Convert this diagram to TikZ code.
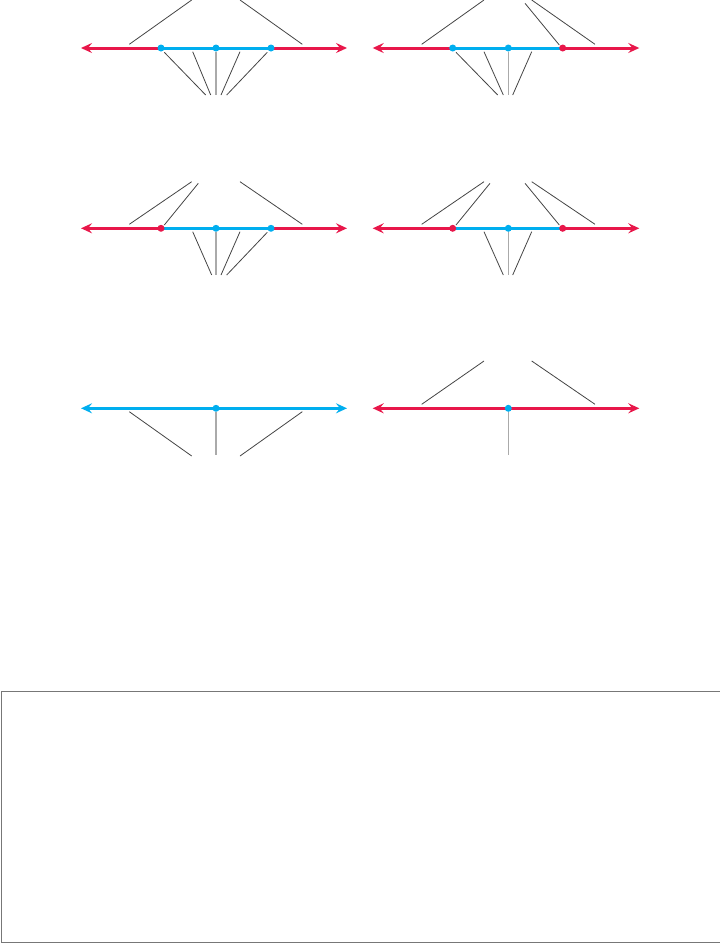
\documentclass[tikz,border=0pt]{standalone}
\usetikzlibrary{arrows.meta}
\definecolor{rd}{HTML}{E8174A}
\definecolor{bl}{HTML}{00AEEF}
\definecolor{ln}{HTML}{444444}
\definecolor{gv}{HTML}{AAAAAA}
\definecolor{bx}{HTML}{777777}
\tikzset{
  axisline/.style={line width=3pt,{Stealth[length=11pt,width=10pt,inset=4pt]}-{Stealth[length=11pt,width=10pt,inset=4pt]}},
  seg/.style={line width=3pt,bl},
  bdot/.style={circle,fill=bl,inner sep=0pt,minimum size=7pt},
  rdot/.style={circle,fill=rd,inner sep=0pt,minimum size=7pt},
  thin line/.style={ln,line width=0.8pt},
  vline/.style={gv,line width=1.6pt},
  framebox/.style={bx,line width=1pt}
}
\begin{document}
\begin{tikzpicture}[x=1pt,y=-1pt]
\useasboundingbox (0,0) rectangle (720,943);
% ---------- Panel 1 ----------
\draw[axisline,rd] (81,48) -- (347,48);
\draw[seg] (161,48) -- (271,48);
\node[bdot] (a1) at (161,48) {};
\node[bdot] (a2) at (216,48) {};
\node[bdot] (a3) at (271,48) {};
\draw[thin line] (129.3,44.3) -- (191.7,0);
\draw[thin line] (240,0) -- (302.3,44.3);
\draw[thin line] (164.3,52.3) -- (205.7,95);
\draw[thin line] (192.7,51.7) -- (210.7,95);
\draw[vline] (a2.south) -- (216,95);
\draw[thin line] (240,51.7) -- (221,95);
\draw[thin line] (267.3,52.3) -- (226.7,95);
% ---------- Panel 2 ----------
\draw[axisline,rd] (372.7,48) -- (639.3,48);
\draw[seg] (452.7,48) -- (562.7,48);
\node[bdot] (b1) at (452.7,48) {};
\node[bdot] (b2) at (508.3,48) {};
\node[rdot] (b3) at (562.7,48) {};
\draw[thin line] (421.7,44.3) -- (484,0);
\draw[thin line] (525,3.3) -- (559.3,45);
\draw[thin line] (531.7,0) -- (595,44.3);
\draw[thin line] (456,52.3) -- (497.7,95);
\draw[thin line] (484,51.7) -- (503.3,95);
\draw[vline] (b2.south) -- (508.3,95);
\draw[thin line] (531.7,51.7) -- (512.7,95);
% ---------- Panel 3 ----------
\draw[axisline,rd] (81,228.3) -- (347,228.3);
\draw[seg] (161,228.3) -- (271,228.3);
\node[rdot] (c1) at (161,228.3) {};
\node[bdot] (c2) at (216,228.3) {};
\node[bdot] (c3) at (271,228.3) {};
\draw[thin line] (129.3,224.3) -- (191.7,181.7);
\draw[thin line] (164.3,225) -- (198.3,183.3);
\draw[thin line] (240,181.7) -- (302.3,224.3);
\draw[thin line] (192.7,231.7) -- (211.7,275);
\draw[vline] (c2.south) -- (216,275);
\draw[thin line] (240,231.7) -- (221,275);
\draw[thin line] (267.3,232.3) -- (226.7,275);
% ---------- Panel 4 ----------
\draw[axisline,rd] (372.7,228.3) -- (639.3,228.3);
\draw[seg] (452.7,228.3) -- (562.7,228.3);
\node[rdot] (d1) at (452.7,228.3) {};
\node[bdot] (d2) at (508.3,228.3) {};
\node[rdot] (d3) at (562.7,228.3) {};
\draw[thin line] (421.7,224.3) -- (484,181.7);
\draw[thin line] (456,225) -- (490,183.3);
\draw[thin line] (525,183.3) -- (559.3,225);
\draw[thin line] (531.7,181.7) -- (595,224.3);
\draw[thin line] (484,231.7) -- (503.3,275);
\draw[vline] (d2.south) -- (508.3,275);
\draw[thin line] (531.7,231.7) -- (512.7,275);
% ---------- Panel 5 ----------
\draw[axisline,bl] (81,408.3) -- (347,408.3);
\node[bdot] (e1) at (216,408.3) {};
\draw[thin line] (129.3,411.7) -- (191.7,456);
\draw[vline] (e1.south) -- (216,455);
\draw[thin line] (240,456) -- (302.3,411.7);
% ---------- Panel 6 ----------
\draw[axisline,rd] (372.7,408.3) -- (639.3,408.3);
\node[bdot] (f1) at (508.3,408.3) {};
\draw[thin line] (421.7,404.3) -- (484,361);
\draw[thin line] (531.7,361) -- (595,404.3);
\draw[vline] (f1.south) -- (508.3,455);
% ---------- Empty box ----------
\node[framebox,draw,minimum width=719pt,minimum height=251pt,anchor=north west,inner sep=0pt] (box) at (0.5,690.5) {};
\end{tikzpicture}
\end{document}
